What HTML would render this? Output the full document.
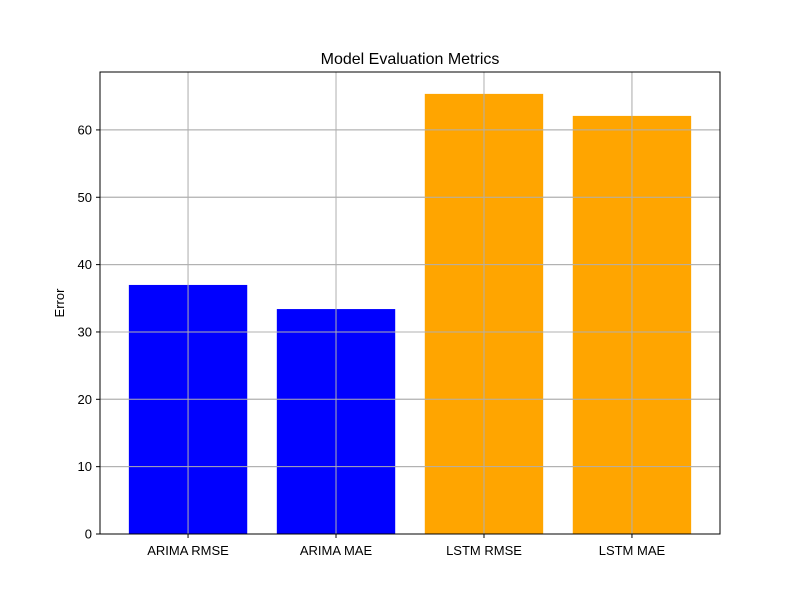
<!DOCTYPE html>
<html><head><meta charset="utf-8"><style>
body{margin:0;background:#fff;}
svg text{font-family:"Liberation Sans","DejaVu Sans",sans-serif;}
</style></head><body>
<svg id="chart" width="800" height="600" xmlns="http://www.w3.org/2000/svg">
<rect width="800" height="600" fill="#fff"/>
<g id="grid"></g>
<g id="bars"></g>
<g id="axes"></g>
<text x="410" y="64" font-size="16" text-anchor="middle">Model Evaluation Metrics</text>
<text transform="translate(64,303) rotate(-90)" font-size="13" text-anchor="middle">Error</text>
</svg>
<script>
const categories = ["ARIMA RMSE","ARIMA MAE","LSTM RMSE","LSTM MAE"];
const values = [36.98, 33.4, 65.35, 62.08];
const colors = ["#0000ff","#0000ff","#ffa500","#ffa500"];
const yTicks = [0,10,20,30,40,50,60];

const L=100,R=720,T=72,B=534;
const yMax=68.6;
const step=(R-L)/(categories.length+0.19);
const y=v=>B-(B-T)*v/yMax;
const x=i=>L+step*(0.595+i);
const NS="http://www.w3.org/2000/svg";
function mk(tag,attrs,parent){const e=document.createElementNS(NS,tag);for(const k in attrs)e.setAttribute(k,attrs[k]);parent.appendChild(e);return e;}
const grid=document.getElementById('grid'),bars=document.getElementById('bars'),axes=document.getElementById('axes');
yTicks.forEach(t=>{
  const g=mk('line',{x1:L,x2:R,y1:y(t),y2:y(t),stroke:'#b0b0b0','stroke-width':1},grid);
  
  
  mk('line',{x1:L-4,x2:L,y1:y(t),y2:y(t),stroke:'#000'},axes);
  const tx=mk('text',{x:L-8,y:y(t)+4.5,'font-size':13,'text-anchor':'end'},axes);
  tx.textContent=t;
  
  
});
categories.forEach((c,i)=>{
  const gl=mk('line',{x1:x(i),x2:x(i),y1:T,y2:B,stroke:'#b0b0b0','stroke-width':1},grid);
  
  
  const w=step*0.8;
  const r=mk('rect',{x:x(i)-w/2,y:y(values[i]),width:w,height:B-y(values[i]),fill:colors[i]},bars);
  
  
  mk('line',{x1:x(i),x2:x(i),y1:B,y2:B+4,stroke:'#000'},axes);
  const tx=mk('text',{x:x(i),y:B+21,'font-size':13,'text-anchor':'middle'},axes);
  tx.textContent=c;
  
  
});
// gridlines drawn above bars in matplotlib when grid on default? keep grid above bars
const gridAbove=grid.cloneNode(true);
bars.parentNode.insertBefore(gridAbove,axes);


const frame=mk('rect',{x:L,y:T,width:R-L,height:B-T,fill:'none',stroke:'#000','stroke-width':1},axes);


</script>
</body></html>
